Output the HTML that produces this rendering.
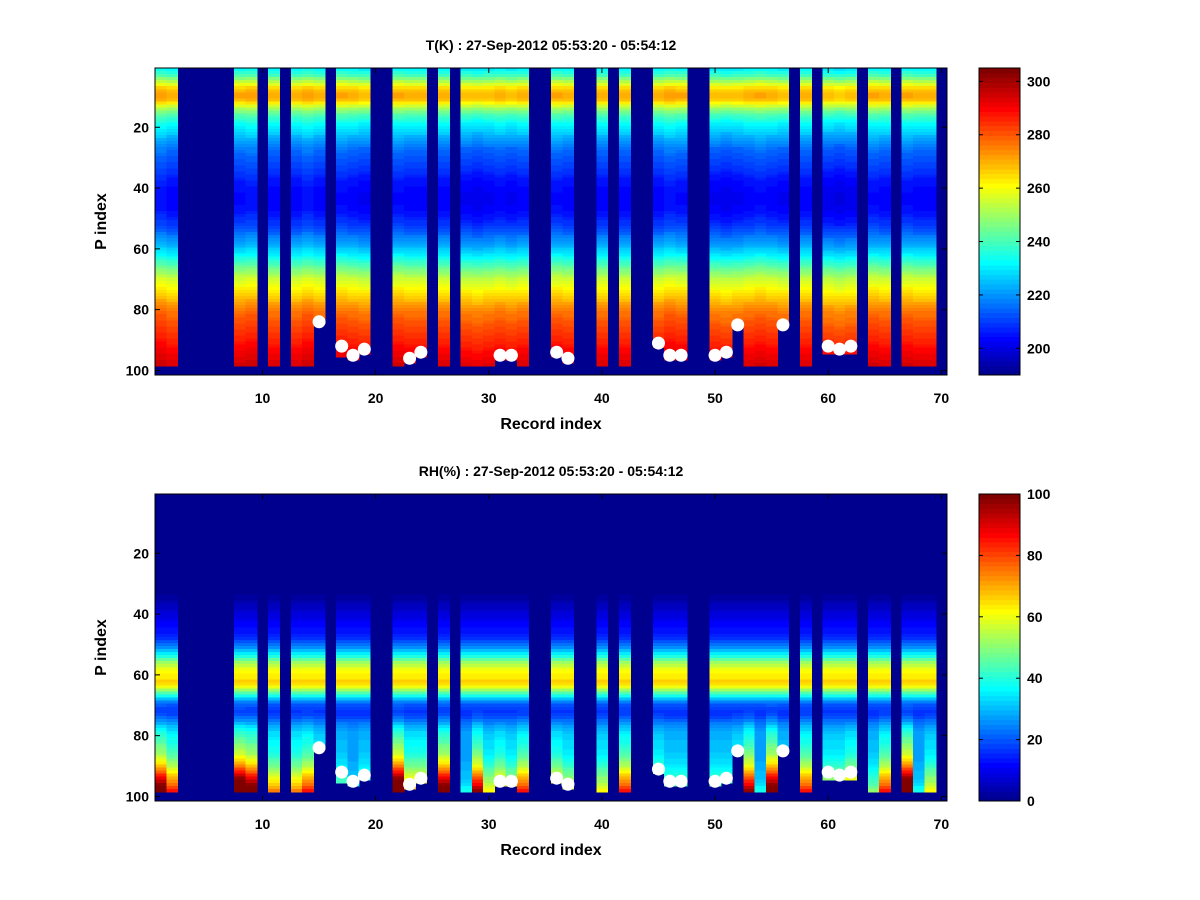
<!DOCTYPE html>
<html><head><meta charset="utf-8">
<style>
html,body{margin:0;padding:0;background:#fff;}
svg{display:block;font-family:"Liberation Sans",Arial,sans-serif;font-weight:bold;}
</style></head>
<body>
<svg id="fig" width="1200" height="900" viewBox="0 0 1200 900" xmlns="http://www.w3.org/2000/svg">
<rect width="1200" height="900" fill="#fff"/>
</svg>
<script>
// ---------- data ----------
const records = Array.from({length:70},(_,i)=>i+1);
// last valid P index per record (0 = no data)
const bottomRow = [98,98,0,0,0,0,0,98,98,0, 98,0,98,98,84,0,95,96,94,0, 0,98,97,95,0,98,0,98,98,98, 96,96,98,0,0,95,97,0,0,98, 0,98,0,0,92,96,96,0,0,96, 95,85,98,98,98,85,0,98,0,94, 94,94,0,98,98,0,98,98,98,0];
// surface marker P index per record (0 = none)
const dotRow = [0,0,0,0,0,0,0,0,0,0, 0,0,0,0,84,0,92,95,93,0, 0,0,96,94,0,0,0,0,0,0, 95,95,0,0,0,94,96,0,0,0, 0,0,0,0,91,95,95,0,0,95, 94,85,0,0,0,85,0,0,0,92, 93,92,0,0,0,0,0,0,0,0];
// temperature profile (K) for P index 1..98
const tProfile = [232,236,240,246,252,258,264,268,270,270,268,262,256,250,245,241,238,235,232,230,
228,226,224,222,220,218,216,215,214,213,212,211,210,209,208,207,206,205,205,204,
204,203,203,203,203,204,204,205,206,207,208,209,211,213,215,217,219,221,223,226,
228,231,234,237,240,243,246,249,252,255,257,259,261,263,265,267,269,271,273,275,
277,278,279,280,281,282,283,284,285,286,287,288,289,290,291,292,293,294];
// per-record temperature offsets (K)
const tOffset = [2,0,0,0,0,0,0,1,2,0, 0,0,0,2,0,0,1,0,-1,0, 0,1,0,0,0,0,0,-1,-2,-1, 0,-1,0,0,0,1,0,0,0,0, 0,0,0,0,0,2,1,0,0,-1, -2,-1,0,1,0,-1,0,0,0,-2, -3,-2,0,1,0,0,1,0,0,0];
// RH profile (%) for P index 1..98
const rhProfile = [0,0,0,0,0,0,0,0,0,0,0,0,0,0,0,0,0,0,0,0,
0,0,0,0,0,0,0,0,0,0,0,0,0,2,3,4,5,6,7,8,
9,10,11,12,13,14,15,17,19,22,26,30,35,40,46,52,56,60,62,63,
64,66,65,60,53,45,38,30,24,20,18,17,18,20,23,26,29,31,33,34,
35,36,37,38,39,40,42,44,46,48,51,54,57,60,63,66,70,74];
// per-record low-level RH factor
const rhLow = [1.3,1.1,1,1,1,1,1,1.4,1.3,1, 1.0,1,1.0,1.1,0.9,1,0.8,0.7,0.8,1, 1,1.4,1.0,1.0,1,1.3,1,0.7,1.2,0.9, 1.0,0.9,1.1,1,1,1.0,0.9,1,1,0.9, 1,1.1,1,1,0.9,0.8,0.8,1,1,0.8, 0.8,0.9,1.2,0.7,1.3,0.8,1,1.1,1,0.9, 0.9,1.0,1,0.8,1.1,1,1.4,0.7,0.9,1];
const xTicks = [10,20,30,40,50,60,70];
const yTicks = [20,40,60,80,100];
const tBarTicks = [200,220,240,260,280,300];
const rhBarTicks = [0,20,40,60,80,100];

// ---------- helpers ----------
const NS="http://www.w3.org/2000/svg";
const svg=document.getElementById('fig');
function mk(tag,attrs,parent){const e=document.createElementNS(NS,tag);for(const k in attrs)e.setAttribute(k,attrs[k]);(parent||svg).appendChild(e);return e;}
function jet(v){let i=Math.floor(Math.max(0,Math.min(0.9999,v))*64);const t=(i+1)/64;
 const c=x=>Math.round(255*Math.max(0,Math.min(1,x)));
 return `rgb(${c(1.5-Math.abs(4*t-3))},${c(1.5-Math.abs(4*t-2))},${c(1.5-Math.abs(4*t-1))})`;}
const AX_L=155, AX_R=947, AX_H=307;
const CELLW=(AX_R-AX_L)/70;
const xS=r=>AX_L+(r-0.5)*CELLW;
const unitY=AX_H/101;

function panel(top,name,title,valFn,cmin,cmax,barTicks){
 const g=mk('g',{},svg);
 
 
 const yS=p=>top+(p-0.5)*unitY;
 const bg=mk('rect',{x:AX_L,y:top,width:AX_R-AX_L,height:AX_H,fill:jet(0)},g);
 
 
 const cells=mk('g',{'shape-rendering':'crispEdges'},g);
 
 
 records.forEach((r,ci)=>{
  const b=bottomRow[ci]; if(!b)return;
  for(let p=1;p<=b;p++){
   const v=valFn(ci,p-1);
   const c=mk('rect',{x:xS(r-0.5).toFixed(2),y:yS(p-0.5).toFixed(2),width:(CELLW+0.6).toFixed(2),height:(unitY+0.6).toFixed(2),fill:jet((v-cmin)/(cmax-cmin))},cells);
   
   
  }
 });
 records.forEach((r,ci)=>{
  const d=dotRow[ci]; if(!d)return;
  const m=mk('circle',{cx:xS(r),cy:yS(d),r:6.5,fill:'#fff'},g);
  
  
 });
 const frame=mk('rect',{x:AX_L,y:top,width:AX_R-AX_L,height:AX_H,fill:'none',stroke:'#000','stroke-width':1},g);
 
 
 xTicks.forEach(t=>{
  const x=xS(t);
  mk('line',{x1:x,x2:x,y1:top+AX_H,y2:top+AX_H-5,stroke:'#000'},g);
  mk('line',{x1:x,x2:x,y1:top,y2:top+5,stroke:'#000'},g);
  const l=mk('text',{x:x,y:top+AX_H+28,'font-size':14,'text-anchor':'middle'},g);l.textContent=t;
  
  
 });
 yTicks.forEach(t=>{
  const y=yS(t);
  mk('line',{x1:AX_L,x2:AX_L+5,y1:y,y2:y,stroke:'#000'},g);
  mk('line',{x1:AX_R,x2:AX_R-5,y1:y,y2:y,stroke:'#000'},g);
  const l=mk('text',{x:AX_L-6,y:y+5,'font-size':14,'text-anchor':'end'},g);l.textContent=t;
  
  
 });
 const tt=mk('text',{x:551,y:top-18,'font-size':14,'text-anchor':'middle'},g);tt.textContent=title;
 
 
 const xl=mk('text',{x:551,y:top+AX_H+54,'font-size':16,'text-anchor':'middle'},g);xl.textContent='Record index';
 
 
 const yl=mk('text',{x:106,y:top+AX_H/2,'font-size':16,'text-anchor':'middle',transform:`rotate(-90 106 ${top+AX_H/2})`},g);yl.textContent='P index';
 
 
 // colorbar
 const cb=mk('g',{'shape-rendering':'crispEdges'},g);
 
 
 const CX=979,CW=41,n=64;
 for(let i=0;i<n;i++){
  mk('rect',{x:CX,y:(top+AX_H-(i+1)*AX_H/n).toFixed(2),width:CW,height:(AX_H/n+0.6).toFixed(2),fill:jet((i+0.5)/n)},cb);
 }
 mk('rect',{x:CX,y:top,width:CW,height:AX_H,fill:'none',stroke:'#000'},g);
 barTicks.forEach(t=>{
  const y=top+AX_H-(t-cmin)/(cmax-cmin)*AX_H;
  mk('line',{x1:CX,x2:CX+4,y1:y,y2:y,stroke:'#000'},g);
  mk('line',{x1:CX+CW,x2:CX+CW-4,y1:y,y2:y,stroke:'#000'},g);
  const l=mk('text',{x:CX+CW+7,y:y+5,'font-size':14},g);l.textContent=t;
  
  
 });
}
panel(68,'temperature','T(K) : 27-Sep-2012 05:53:20 - 05:54:12',(ci,pi)=>tProfile[pi]+tOffset[ci],190,305,tBarTicks);
panel(494,'humidity','RH(%) : 27-Sep-2012 05:53:20 - 05:54:12',(ci,pi)=>{
  const v=rhProfile[pi];
  const ramp=Math.max(0,Math.min(1,(pi-68)/25));
  return Math.min(100,v*(1+(rhLow[ci]-1)*ramp*1.6));
},0,100,rhBarTicks);
</script>
</body></html>
